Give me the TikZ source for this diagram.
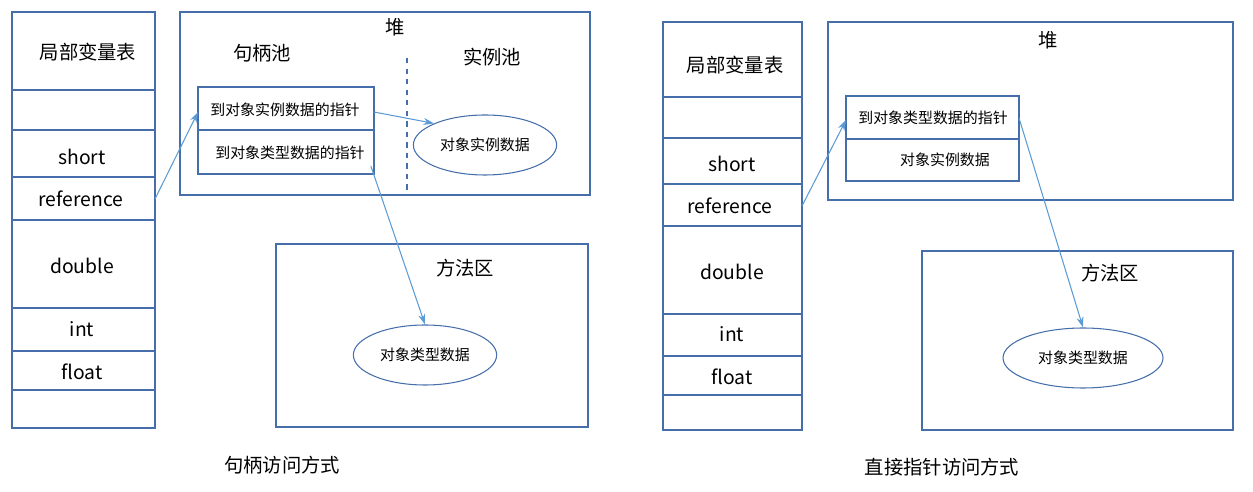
\documentclass[tikz,border=0pt]{standalone}
\usepackage{fontspec}
\setmainfont{Noto Sans CJK SC}
\usetikzlibrary{arrows.meta,shapes.geometric}
\definecolor{boxline}{RGB}{70,110,170}
\definecolor{arrowline}{RGB}{91,155,213}
\tikzset{
  frame/.style={draw=boxline,line width=0.6pt},
  lbl/.style={font=\fontsize{11}{13}\selectfont},
  small/.style={font=\fontsize{8.5}{10}\selectfont},
  pointer/.style={draw=arrowline,line width=0.6pt,-{Stealth[length=6pt,width=4pt]}},
  blob/.style={draw=boxline,line width=0.6pt,ellipse}
}
\begin{document}
\begin{tikzpicture}[x=0.02cm,y=-0.02cm]
\useasboundingbox (0,0) rectangle (1253,492);

% handle access
\draw[frame] (12,12) rectangle (155,428);
\foreach \y in {90,130,177,220,308,351,390}
  \draw[frame] (12,\y) -- (155,\y);
\node[lbl] (lt) at (88,52) {局部变量表};
\node[lbl] (ls) at (82,157) {short};
\node[lbl] (lr) at (81,199) {reference};
\node[lbl] (ld) at (82,266) {double};
\node[lbl] (li) at (82,329) {int};
\node[lbl] (lf) at (82,372) {float};
\coordinate (lrout) at (155,199);

\draw[frame] (180,12) rectangle (590,195);
\node[lbl] (lheap) at (395,27) {堆};
\node[lbl] (lpool) at (262,53) {句柄池};
\node[lbl] (linst) at (492,57) {实例池};
\draw[frame,dashed] (407,58) -- (407,190);
\draw[frame] (198,87) rectangle (374,174);
\draw[frame] (198,130) -- (374,130);
\node[small] (lp1) at (285,110) {到对象实例数据的指针};
\node[small] (lp2) at (290,153) {到对象类型数据的指针};
\coordinate (lp1in) at (198,112);
\coordinate (lp1out) at (374,112);
\node[blob,small,minimum width=136*0.02cm,minimum height=60*0.02cm] (ldata) at (485,145) {对象实例数据};

\draw[frame] (276,244) rectangle (588,427);
\node[lbl] (lmeth) at (465,268) {方法区};
\node[blob,small,minimum width=140*0.02cm,minimum height=60*0.02cm] (ltype) at (425,355) {对象类型数据};

\draw[pointer] (lrout) -- (lp1in);
\draw[pointer] (lp1out) -- (ldata.north west);
\draw[pointer] (lp2.south east) -- (ltype.north);
\node[lbl] (lcap) at (282,465) {句柄访问方式};

% direct pointer access
\draw[frame] (663,22) rectangle (802,430);
\foreach \y in {97,138,184,226,314,356,395}
  \draw[frame] (663,\y) -- (802,\y);
\node[lbl] (rt) at (735,65) {局部变量表};
\node[lbl] (rs) at (732,164) {short};
\node[lbl] (rr) at (730,206) {reference};
\node[lbl] (rd) at (732,272) {double};
\node[lbl] (ri) at (732,334) {int};
\node[lbl] (rf) at (732,377) {float};
\coordinate (rrout) at (802,206);

\draw[frame] (828,22) rectangle (1233,200);
\node[lbl] (rheap) at (1048,40) {堆};
\draw[frame] (846,96) rectangle (1019,181);
\draw[frame] (846,139) -- (1019,139);
\node[small] (rp1) at (933,118) {到对象类型数据的指针};
\node[small] (rp2) at (945,160) {对象实例数据};
\coordinate (rp1in) at (846,120);
\coordinate (rp1out) at (1019,118);

\draw[frame] (922,251) rectangle (1233,430);
\node[lbl] (rmeth) at (1110,273) {方法区};
\node[blob,small,minimum width=160*0.02cm,minimum height=60*0.02cm] (rtype) at (1083,358) {对象类型数据};

\draw[pointer] (rrout) -- (rp1in);
\draw[pointer] (rp1out) -- (rtype.north);
\node[lbl] (rcap) at (942,467) {直接指针访问方式};
\end{tikzpicture}
\end{document}
